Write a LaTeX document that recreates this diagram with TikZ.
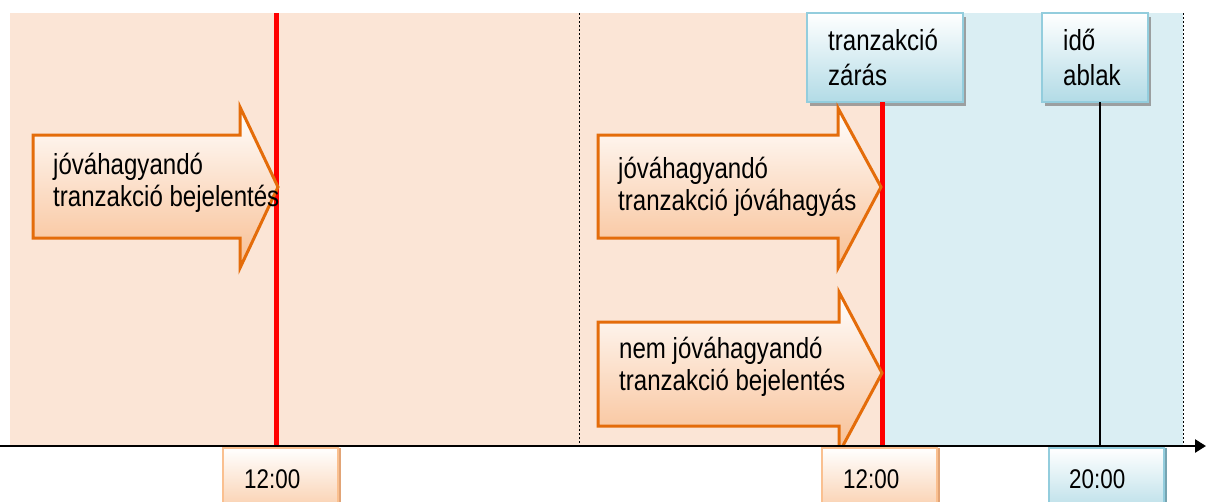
\documentclass[tikz,border=0pt]{standalone}
\usepackage{fontspec}
\setmainfont{Liberation Sans}[FakeStretch=0.83]
\usetikzlibrary{arrows.meta,shadows}
\definecolor{peach}{HTML}{FBE5D6}
\definecolor{paleblue}{HTML}{DAEEF3}
\definecolor{arrowline}{HTML}{E46C0A}
\definecolor{arrowbot}{HTML}{F8BE92}
\definecolor{boxline}{HTML}{93CDDD}
\definecolor{boxbot}{HTML}{B2DBE6}
\definecolor{tline}{HTML}{FAC090}
\definecolor{tbot}{HTML}{F9C9A3}
\definecolor{tshadow}{HTML}{E2A476}
\tikzset{
  bigarrow/.style={draw=arrowline, line width=3pt, line join=miter, top color=white, bottom color=arrowbot},
  arrowtext/.style={anchor=base west, align=left, inner sep=0pt, font=\fontsize{29}{32}\selectfont},
  infobox/.style={draw=boxline, line width=2pt, top color=white, bottom color=boxbot,
    drop shadow={shadow xshift=3pt, shadow yshift=-4pt, fill=black!45, opacity=0.8}},
  infotext/.style={anchor=base west, align=left, inner sep=0pt, font=\fontsize{29}{35}\selectfont},
  peachtime/.style={draw=tline, line width=2pt, top color=white, bottom color=tbot,
    drop shadow={shadow xshift=3pt, shadow yshift=0pt, fill=tshadow, opacity=1}},
  bluetime/.style={draw=boxline, line width=2pt, top color=white, bottom color=boxbot,
    drop shadow={shadow xshift=3pt, shadow yshift=0pt, fill=boxline!80!black, opacity=1}},
  timetext/.style={anchor=base west, inner sep=0pt, font=\fontsize{27}{30}\selectfont},
  redline/.style={draw=red, line width=5pt},
  dotline/.style={draw=black, line width=1pt, dash pattern=on 2pt off 2pt},
}
\begin{document}
\begin{tikzpicture}[x=1pt,y=1pt]
\useasboundingbox (0,0) rectangle (1206,-501);
% background regions
\fill[peach] (10,-13) rectangle (882,-446);
\fill[paleblue] (882,-13) rectangle (1183,-446);
\coordinate (d1top) at (579,-13);
\coordinate (d1bot) at (579,-446);
\coordinate (d2top) at (1183,-13);
\coordinate (d2bot) at (1183,-446);
\draw[dotline] (d1top) -- (d1bot);
\draw[dotline] (d2top) -- (d2bot);
% axis
\coordinate (axL) at (0,-446);
\coordinate (axR) at (1206,-446);
% top boxes
\node[infobox, minimum width=156pt, minimum height=89pt, inner sep=0pt] (zaras) at (885,-57.5) {};
\node[infobox, minimum width=106pt, minimum height=89pt, inner sep=0pt] (ido) at (1095,-57.5) {};
\node[infotext] (zarasT) at (828,-85) {tranzakció\\zárás};
\node[infotext] (idoT) at (1063,-85) {idő\\ablak};
% red lines and black line
\coordinate (r1top) at (276.5,-13);
\coordinate (r1bot) at (276.5,-446);
\coordinate (r2top) at (882,-102);
\coordinate (r2bot) at (882,-446);
\coordinate (idoBot) at (1100,-102);
\coordinate (idoAx) at (1100,-446);
\draw[redline] (r1top) -- (r1bot);
\draw[redline] (r2top) -- (r2bot);
\draw[black, line width=2pt] (idoBot) -- (idoAx);
% arrows
\path[bigarrow] (33,-135) -- (240,-135) -- (240,-107) -- (278,-187) -- (240,-268) -- (240,-238) -- (33,-238) -- cycle;
\path[bigarrow] (598,-135) -- (838,-135) -- (838,-108) -- (881,-187) -- (838,-268) -- (838,-238) -- (598,-238) -- cycle;
\path[bigarrow] (598,-322) -- (839,-322) -- (839,-292) -- (882,-373) -- (839,-453) -- (839,-426) -- (598,-426) -- cycle;
\node[arrowtext] (a1) at (53,-206) {jóváhagyandó\\tranzakció bejelentés};
\node[arrowtext] (a2) at (618,-210) {jóváhagyandó\\tranzakció jóváhagyás};
\node[arrowtext] (a3) at (619,-390) {nem jóváhagyandó\\tranzakció bejelentés};
% axis line
\draw[line width=2.5pt, -{Triangle[length=11pt,width=13pt]}] (axL) -- (axR);
% time boxes
\node[peachtime, minimum width=115pt, minimum height=70pt, inner sep=0pt] (t1) at (280.5,-483) {};
\node[peachtime, minimum width=115pt, minimum height=70pt, inner sep=0pt] (t2) at (879.5,-483) {};
\node[bluetime, minimum width=115pt, minimum height=70pt, inner sep=0pt] (t3) at (1106.5,-483) {};
\node[timetext] (t1T) at (244,-488) {12:00};
\node[timetext] (t2T) at (843,-488) {12:00};
\node[timetext] (t3T) at (1069,-488) {20:00};
\end{tikzpicture}
\end{document}
